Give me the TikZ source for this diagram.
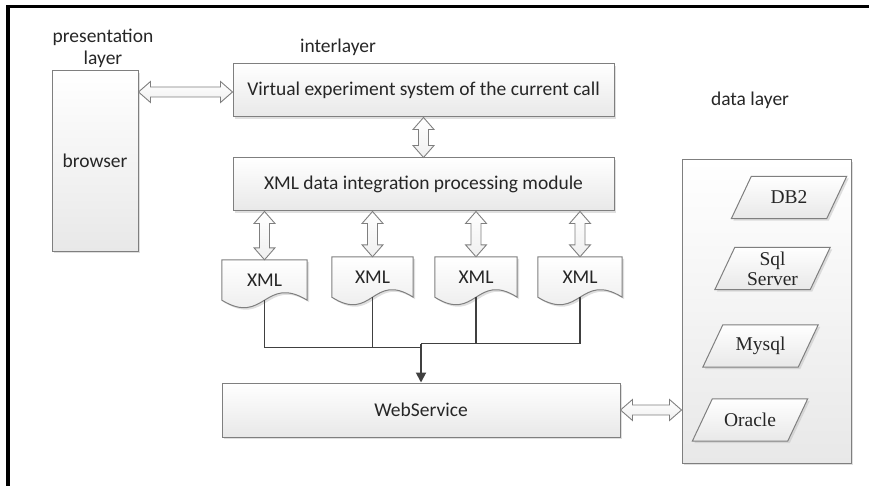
\documentclass[tikz,border=0pt]{standalone}
\usepackage{fontspec}
\setmainfont{Carlito}
\newfontfamily\tnr{Liberation Serif}
\usetikzlibrary{calc,shadows,arrows.meta,backgrounds}
\definecolor{edge}{HTML}{7F7F7F}
\definecolor{ink}{HTML}{262626}
\definecolor{wire}{HTML}{404040}
\tikzset{
  box/.style={draw=edge, line width=1pt, top color=white, bottom color=black!9,
    drop shadow={shadow xshift=2pt, shadow yshift=-2pt, fill=black!25, opacity=0.5},
    text=ink, inner sep=0pt},
  ghost/.style={inner sep=0pt, text=ink},
  parabox/.style={ghost, font=\fontsize{19.5}{20}\tnr, align=center, minimum width=95pt, minimum height=42pt},
  docbox/.style={ghost, minimum height=40pt},
  fatarr/.style={draw=edge, line width=0.9pt, top color=white, bottom color=black!6, line join=miter},
  conn/.style={draw=wire, line width=1.9pt},
  lbl/.style={text=ink, align=center, inner sep=0pt},
}
% document outline with wavy bottom
\newcommand\docout[1]{\path[box] (#1.north west) -- (#1.north east) -- (#1.south east)
  .. controls ($(#1.south)+(0,-26)$) and ($(#1.south)+(0,26)$) .. (#1.south west) -- cycle;}
% parallelogram outline
\newcommand\paraout[1]{\path[box] ($(#1.north west)+(10,0)$) -- ($(#1.north east)+(10,0)$)
  -- ($(#1.south east)+(-10,0)$) -- ($(#1.south west)+(-10,0)$) -- cycle;}
% fat vertical double arrow, #1 top, #2 bottom
\newcommand\vfat[2]{\path[fatarr] (#1) -- ++(10.5,12) -- ++(-5.5,0) -- ($(#2)+(5,-12)$) -- ++(5.5,0)
  -- (#2) -- ++(-10.5,-12) -- ++(5.5,0) -- ($(#1)+(-5,12)$) -- ++(-5.5,0) -- cycle;}
% fat horizontal double arrow, #1 left, #2 right
\newcommand\hfat[2]{\path[fatarr] (#1) -- ++(12,-10.5) -- ++(0,5.5) -- ($(#2)+(-12,-5)$) -- ++(0,-5.5)
  -- (#2) -- ++(-12,10.5) -- ++(0,-5.5) -- ($(#1)+(12,5)$) -- ++(0,5.5) -- cycle;}
\begin{document}
\begin{tikzpicture}[x=1pt,y=-1pt, font=\fontsize{19.5}{22}\selectfont]
\useasboundingbox (0,0) rectangle (869,486);
\draw[line width=3.5pt] (8,486) -- (8,6.5) -- (869,6.5);

% labels
\node[lbl] (pres) at (103,48) {presentation\\layer};
\node[lbl] (inter) at (338,47) {interlayer};
\node[lbl] (datal) at (750,100) {data layer};

% boxes
\node[box, minimum width=86pt, minimum height=180pt] (browser) at (95,161) {browser};
\node[box, minimum width=381pt, minimum height=53pt] (virt) at (423.5,90.5) {Virtual experiment system of the current call};
\node[box, minimum width=381pt, minimum height=53pt] (xmod) at (423.5,184.5) {XML data integration processing module};
\node[box, minimum width=398pt, minimum height=54pt] (web) at (421,410) {WebService};

% documents
\node[docbox, minimum width=85pt] (d1) at (264.5,280) {XML};
\node[docbox, minimum width=81pt] (d2) at (372.5,277) {XML};
\node[docbox, minimum width=82pt] (d3) at (476,277) {XML};
\node[docbox, minimum width=84pt] (d4) at (580,277) {XML};

% databases
\node[parabox] (db2) at (789,197.5) {DB2};
\node[parabox] (sql) at (772.5,268.5) {Sql\\Server};
\node[parabox] (mysql) at (760.5,346) {Mysql};
\node[parabox] (oracle) at (750,420) {Oracle};

\begin{scope}[on background layer]
  \node[box, minimum width=169pt, minimum height=303pt] (dl) at (766.5,311.5) {};
  \paraout{db2}\paraout{sql}\paraout{mysql}\paraout{oracle}
  \docout{d1}\docout{d2}\docout{d3}\docout{d4}
\end{scope}

% fat double arrows
\coordinate (h1r) at ($(virt.west)+(0,1.5)$);
\coordinate (h1l) at (browser.east |- h1r);
\hfat{h1l}{h1r}
\vfat{virt.south}{xmod.north}
\coordinate (a1) at (xmod.south -| d1.north);
\coordinate (a2) at (xmod.south -| d2.north);
\coordinate (a3) at (xmod.south -| d3.north);
\coordinate (a4) at (xmod.south -| d4.north);
\vfat{a1}{d1.north}
\vfat{a2}{d2.north}
\vfat{a3}{d3.north}
\vfat{a4}{d4.north}
\coordinate (h2r) at (dl.west |- web.east);
\hfat{web.east}{h2r}

% connectors
\coordinate (jl) at ($(web.north)+(0,-35)$);
\coordinate (jr) at ($(web.north)+(0,-39)$);
\draw[conn] (d1.south) |- (jl);
\draw[conn] (d2.south) -- (d2.south |- jl);
\draw[conn] (d4.south) |- (jr);
\draw[conn] (d3.south) -- (d3.south |- jr);
\draw[conn, -{Triangle[length=10pt,width=10pt]}] (jr) -- (web.north);
\end{tikzpicture}
\end{document}
